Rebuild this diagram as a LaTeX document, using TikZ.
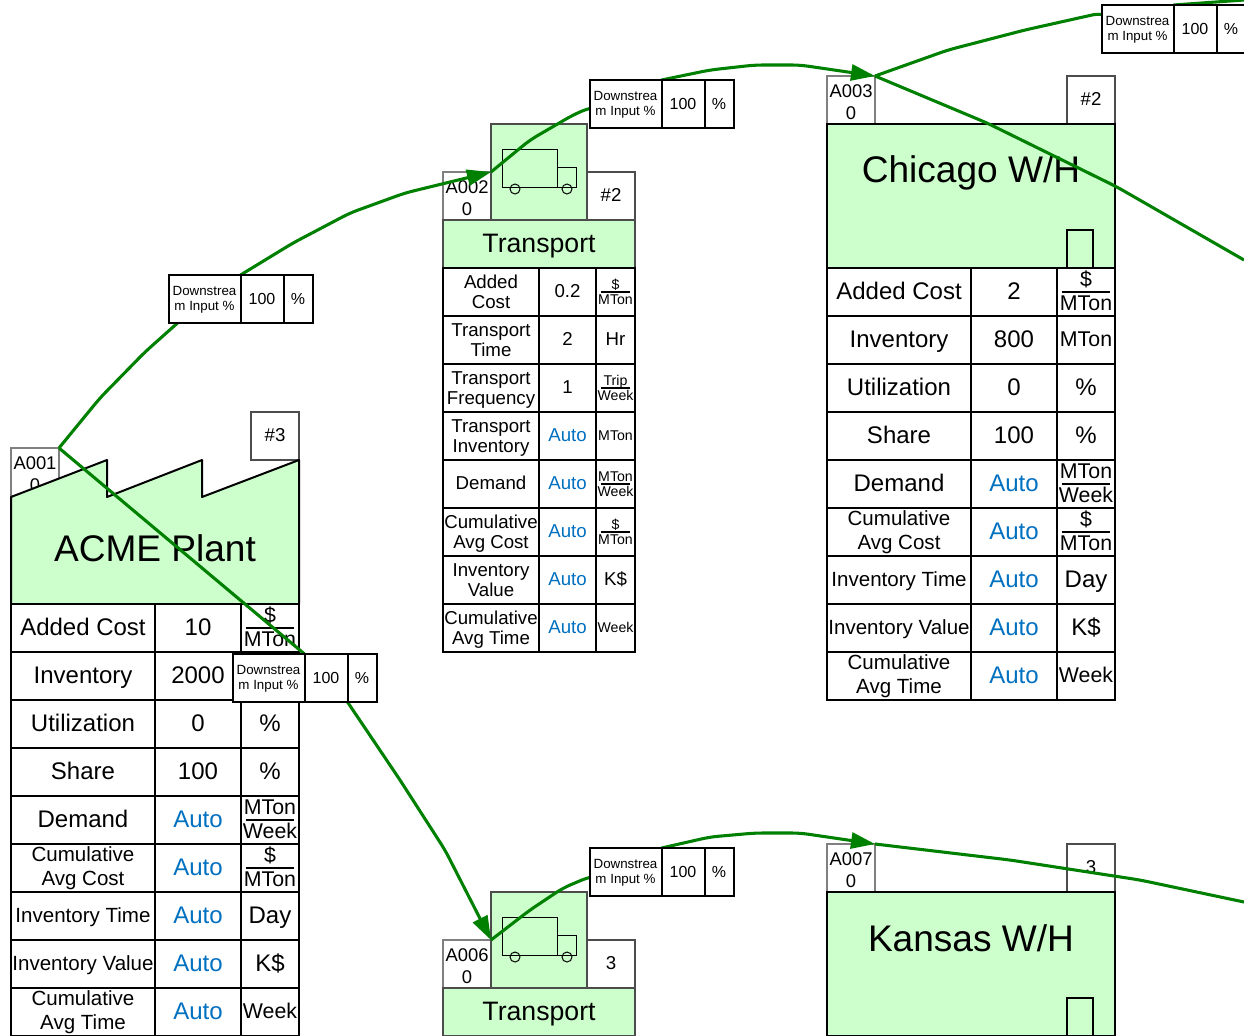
\documentclass[tikz,border=0pt]{standalone}
\usepackage{fontspec}
\setmainfont{Liberation Sans}
\usepackage{xcolor}
\usepackage{tikz}
\usetikzlibrary{arrows.meta,positioning}

\definecolor{blockgreen}{RGB}{204,255,204}
\definecolor{flowgreen}{RGB}{0,128,0}
\definecolor{autoblue}{RGB}{0,112,192}

\pgfdeclarelayer{flow}
\pgfdeclarelayer{link}
\pgfsetlayers{main,flow,link}

\newcommand{\autoval}{\textcolor{autoblue}{Auto}}
\newcommand{\cellstrut}{\rule[-.224em]{0pt}{1.084em}}

% one table row: previous row, name, label style, label, value, unit style, unit
\newcommand{\datarow}[7]{%
  \node[labelcell,#3,anchor=north west] (#2) at (#1.south west) {#4};
  \node[valuecell,right=0pt of #2] (#2v) {#5};
  \node[unitcell,#6,right=0pt of #2v] (#2u) {#7};
}
% the small three part box on a connector
\newcommand{\linkrow}[2]{%
  \node[linklabel,anchor=north west] (#1) at (#2) {Downstrea\\m Input \%};
  \node[linkvalue,right=0pt of #1] (#1v) {100};
  \node[linkunit,right=0pt of #1v] (#1u) {\%};
}

\begin{document}
\begin{tikzpicture}[
    x=0.75pt, y=-0.75pt,
    cell/.style={rectangle, draw, fill=white, line width=1.5pt, inner sep=0pt, outer sep=0pt, minimum height=36pt, align=center, execute at begin node=\cellstrut, execute at end node=\cellstrut},
    labelcell/.style={cell},
    valuecell/.style={cell},
    unitcell/.style={cell},
    twoline/.style={execute at begin node={\rule{0pt}{1.95em}}},
    subtext/.style={font=\fontsize{15.4}{18}\selectfont},
    subunit/.style={font=\fontsize{16}{18}\selectfont},
    plainunit/.style={font=\fontsize{14}{15}\selectfont},
    fracunit/.style={twoline, path picture={\draw[line width=1pt] ([xshift=3.5pt]path picture bounding box.west) -- ([xshift=-3.5pt]path picture bounding box.east);}},
    bigtable/.style={
        labelcell/.append style={minimum width=108pt, font=\fontsize{18}{21}\selectfont},
        valuecell/.append style={minimum width=64.5pt, font=\fontsize{18}{21}\selectfont},
        unitcell/.append style={minimum width=43.5pt, font=\fontsize{18}{21}\selectfont}},
    smalltable/.style={
        labelcell/.append style={minimum width=72pt, font=\fontsize{14}{15}\selectfont},
        valuecell/.append style={minimum width=42.75pt, font=\fontsize{14}{15}\selectfont},
        unitcell/.append style={minimum width=29.25pt, font=\fontsize{10.6}{11.25}\selectfont}},
    idbox/.style={cell, draw=gray, line width=1.1pt, minimum width=36pt, font=\fontsize{13.8}{16.5}\selectfont, execute at begin node={\rule{0pt}{2.36em}}},
    countbox/.style={cell, draw=black!70, line width=1.1pt, minimum width=36pt, font=\fontsize{14}{16}\selectfont},
    headbox/.style={cell, fill=blockgreen},
    bigtitle/.style={font=\fontsize{27.8}{32}\selectfont, inner sep=0pt},
    transporthead/.style={headbox, draw=black!70, minimum width=144pt, font=\fontsize{20}{24}\selectfont},
    truckbox/.style={cell, fill=blockgreen, draw=black!70, minimum width=72pt, minimum height=72pt},
    doorbox/.style={rectangle, draw, fill=blockgreen, line width=1pt, minimum width=19.5pt, minimum height=28.5pt, inner sep=0pt, outer sep=0pt},
    linklabel/.style={cell, twoline, minimum width=54pt, font=\fontsize{10}{11.25}\selectfont},
    linkvalue/.style={cell, minimum width=32.25pt, font=\fontsize{12}{14}\selectfont},
    linkunit/.style={cell, minimum width=21.75pt, font=\fontsize{12}{14}\selectfont},
    flow/.style={draw=flowgreen, line width=2.3pt, rounded corners=6pt, line join=round},
    flowarrow/.style={flow, -{Triangle[length=18pt,width=12pt]}},
    truck/.pic={
        \draw[line width=0.75pt] (11,25) rectangle (66,63);
        \draw[line width=0.75pt] (66,43) rectangle (85,63);
        \draw[line width=0.75pt] (24,65) circle (3.75pt);
        \draw[line width=0.75pt] (76,65) circle (3.75pt);
    }
]
\useasboundingbox (0,0) rectangle (1244,1035);

% ACME plant
\node[idbox] (acmeid) at (35,472) {A001\\0};
\node[countbox] (acmecount) at (275,436) {\#3};
\draw[line width=1.5pt, fill=blockgreen, line join=round] (11,497) -- (107,460) -- (107,497) -- (202,460) -- (202,497) -- (299,460) -- (299,604) -- (11,604) -- cycle;
\node[bigtitle, minimum width=216pt, minimum height=80pt, anchor=south west] (acmehead) at (11,604) {};
\node[bigtitle] (acmetitle) at (155,548) {ACME Plant};

\begin{scope}[bigtable]
\datarow{acmehead}{acmecost}{}{Added Cost}{10}{subunit,fracunit}{\$\\MTon}
\datarow{acmecost}{acmeinv}{}{Inventory}{2000}{}{}
\datarow{acmeinv}{acmeutil}{}{Utilization}{0}{}{\%}
\datarow{acmeutil}{acmeshare}{}{Share}{100}{}{\%}
\datarow{acmeshare}{acmedemand}{}{Demand}{\autoval}{subunit,fracunit}{MTon\\Week}
\datarow{acmedemand}{acmeavgcost}{subtext,twoline}{Cumulative\\Avg Cost}{\autoval}{subunit,fracunit}{\$\\MTon}
\datarow{acmeavgcost}{acmetime}{subtext}{Inventory Time}{\autoval}{}{Day}
\datarow{acmetime}{acmevalue}{subtext}{Inventory Value}{\autoval}{}{K\$}
\datarow{acmevalue}{acmeavgtime}{subtext,twoline}{Cumulative\\Avg Time}{\autoval}{subunit}{Week}
\end{scope}

% First transport
\node[idbox] (moveaid) at (467,196) {A002\\0};
\node[countbox] (moveacount) at (611,196) {\#2};
\node[truckbox] (moveatruck) at (539,172) {};
\pic at (moveatruck.north west) {truck};
\node[transporthead] (moveahead) at (539,244) {Transport};

\begin{scope}[smalltable]
\datarow{moveahead}{moveacost}{twoline}{Added\\Cost}{0.2}{fracunit}{\$\\MTon}
\datarow{moveacost}{moveatime}{twoline}{Transport\\Time}{2}{plainunit}{Hr}
\datarow{moveatime}{moveafreq}{twoline}{Transport\\Frequency}{1}{fracunit}{Trip\\Week}
\datarow{moveafreq}{moveainv}{twoline}{Transport\\Inventory}{\autoval}{}{MTon}
\datarow{moveainv}{moveademand}{}{Demand}{\autoval}{fracunit}{MTon\\Week}
\datarow{moveademand}{moveaavgcost}{twoline}{Cumulative\\Avg Cost}{\autoval}{fracunit}{\$\\MTon}
\datarow{moveaavgcost}{moveavalue}{twoline}{Inventory\\Value}{\autoval}{plainunit}{K\$}
\datarow{moveavalue}{moveaavgtime}{twoline}{Cumulative\\Avg Time}{\autoval}{}{Week}
\end{scope}

% Chicago warehouse
\node[idbox] (chicagoid) at (851,100) {A003\\0};
\node[countbox] (chicagocount) at (1091,100) {\#2};
\node[headbox, minimum width=216pt, minimum height=108pt] (chicagohead) at (971,196) {};
\node[bigtitle] (chicagotitle) at (971,173) {Chicago W/H};
\node[doorbox] (chicagodoor) at (1080,249) {};

\begin{scope}[bigtable]
\datarow{chicagohead}{chicagocost}{}{Added Cost}{2}{subunit,fracunit}{\$\\MTon}
\datarow{chicagocost}{chicagoinv}{}{Inventory}{800}{subunit}{MTon}
\datarow{chicagoinv}{chicagoutil}{}{Utilization}{0}{}{\%}
\datarow{chicagoutil}{chicagoshare}{}{Share}{100}{}{\%}
\datarow{chicagoshare}{chicagodemand}{}{Demand}{\autoval}{subunit,fracunit}{MTon\\Week}
\datarow{chicagodemand}{chicagoavgcost}{subtext,twoline}{Cumulative\\Avg Cost}{\autoval}{subunit,fracunit}{\$\\MTon}
\datarow{chicagoavgcost}{chicagotime}{subtext}{Inventory Time}{\autoval}{}{Day}
\datarow{chicagotime}{chicagovalue}{subtext}{Inventory Value}{\autoval}{}{K\$}
\datarow{chicagovalue}{chicagoavgtime}{subtext,twoline}{Cumulative\\Avg Time}{\autoval}{subunit}{Week}
\end{scope}

% Second transport
\node[idbox] (movebid) at (467,964) {A006\\0};
\node[countbox] (movebcount) at (611,964) {3};
\node[truckbox] (movebtruck) at (539,940) {};
\pic at (movebtruck.north west) {truck};
\node[transporthead] (movebhead) at (539,1012) {Transport};

% Kansas warehouse
\node[idbox] (kansasid) at (851,868) {A007\\0};
\node[countbox] (kansascount) at (1091,868) {3};
\node[headbox, minimum width=216pt, minimum height=108pt] (kansashead) at (971,964) {};
\node[bigtitle] (kansastitle) at (971,938) {Kansas W/H};
\node[doorbox] (kansasdoor) at (1080,1017) {};

% Boxes on the connectors
\begin{pgfonlayer}{link}
\linkrow{linka}{168.5,275}
\linkrow{linkb}{589.5,80}
\linkrow{linkc}{232.5,654}
\linkrow{linkd}{1101.5,5}
\linkrow{linke}{589.5,848}
\end{pgfonlayer}

% Ends off the page
\coordinate (exittop) at (1244,0);
\coordinate (exitside) at (1244,260);
\coordinate (exitlow) at (1244,902);

% Connectors
\begin{pgfonlayer}{flow}
\draw[flow] (acmeid.north east) -- (100,398) -- (145,352) -- (linka.center);
\draw[flowarrow] (linka.north east) -- (293,243) -- (350,213) -- (405,193) -- (moveaid.north east);
\draw[flow] (moveaid.north east) -- (530,140) -- (573,115) -- (589,108) -- (linkb.center);
\draw[flowarrow] (linkb.north east) -- (710,70) -- (755,65) -- (800,65) -- (chicagoid.north east);
\draw[flow] (chicagoid.north east) -- (948,50) -- (1025,30) -- (1101,13) -- (linkd.center);
\draw[flow] (linkd.north east) -- (exittop);
\draw[flow] (chicagoid.north east) -- (987,123) -- (1117,187) -- (exitside);

\draw[flow] (acmeid.north east) -- (linkc.north east);
\draw[flowarrow] (linkcv.south east) -- (400,780) -- (445,850) -- (movebid.north east);
\draw[flow] (movebid.north east) -- (530,910) -- (563,888) -- (589,877) -- (linke.center);
\draw[flowarrow] (linke.north east) -- (710,837) -- (755,833) -- (800,833) -- (kansasid.north east);
\draw[flow] (kansasid.north east) -- (1010,860) -- (1140,880) -- (exitlow);
\end{pgfonlayer}

\end{tikzpicture}
\end{document}
